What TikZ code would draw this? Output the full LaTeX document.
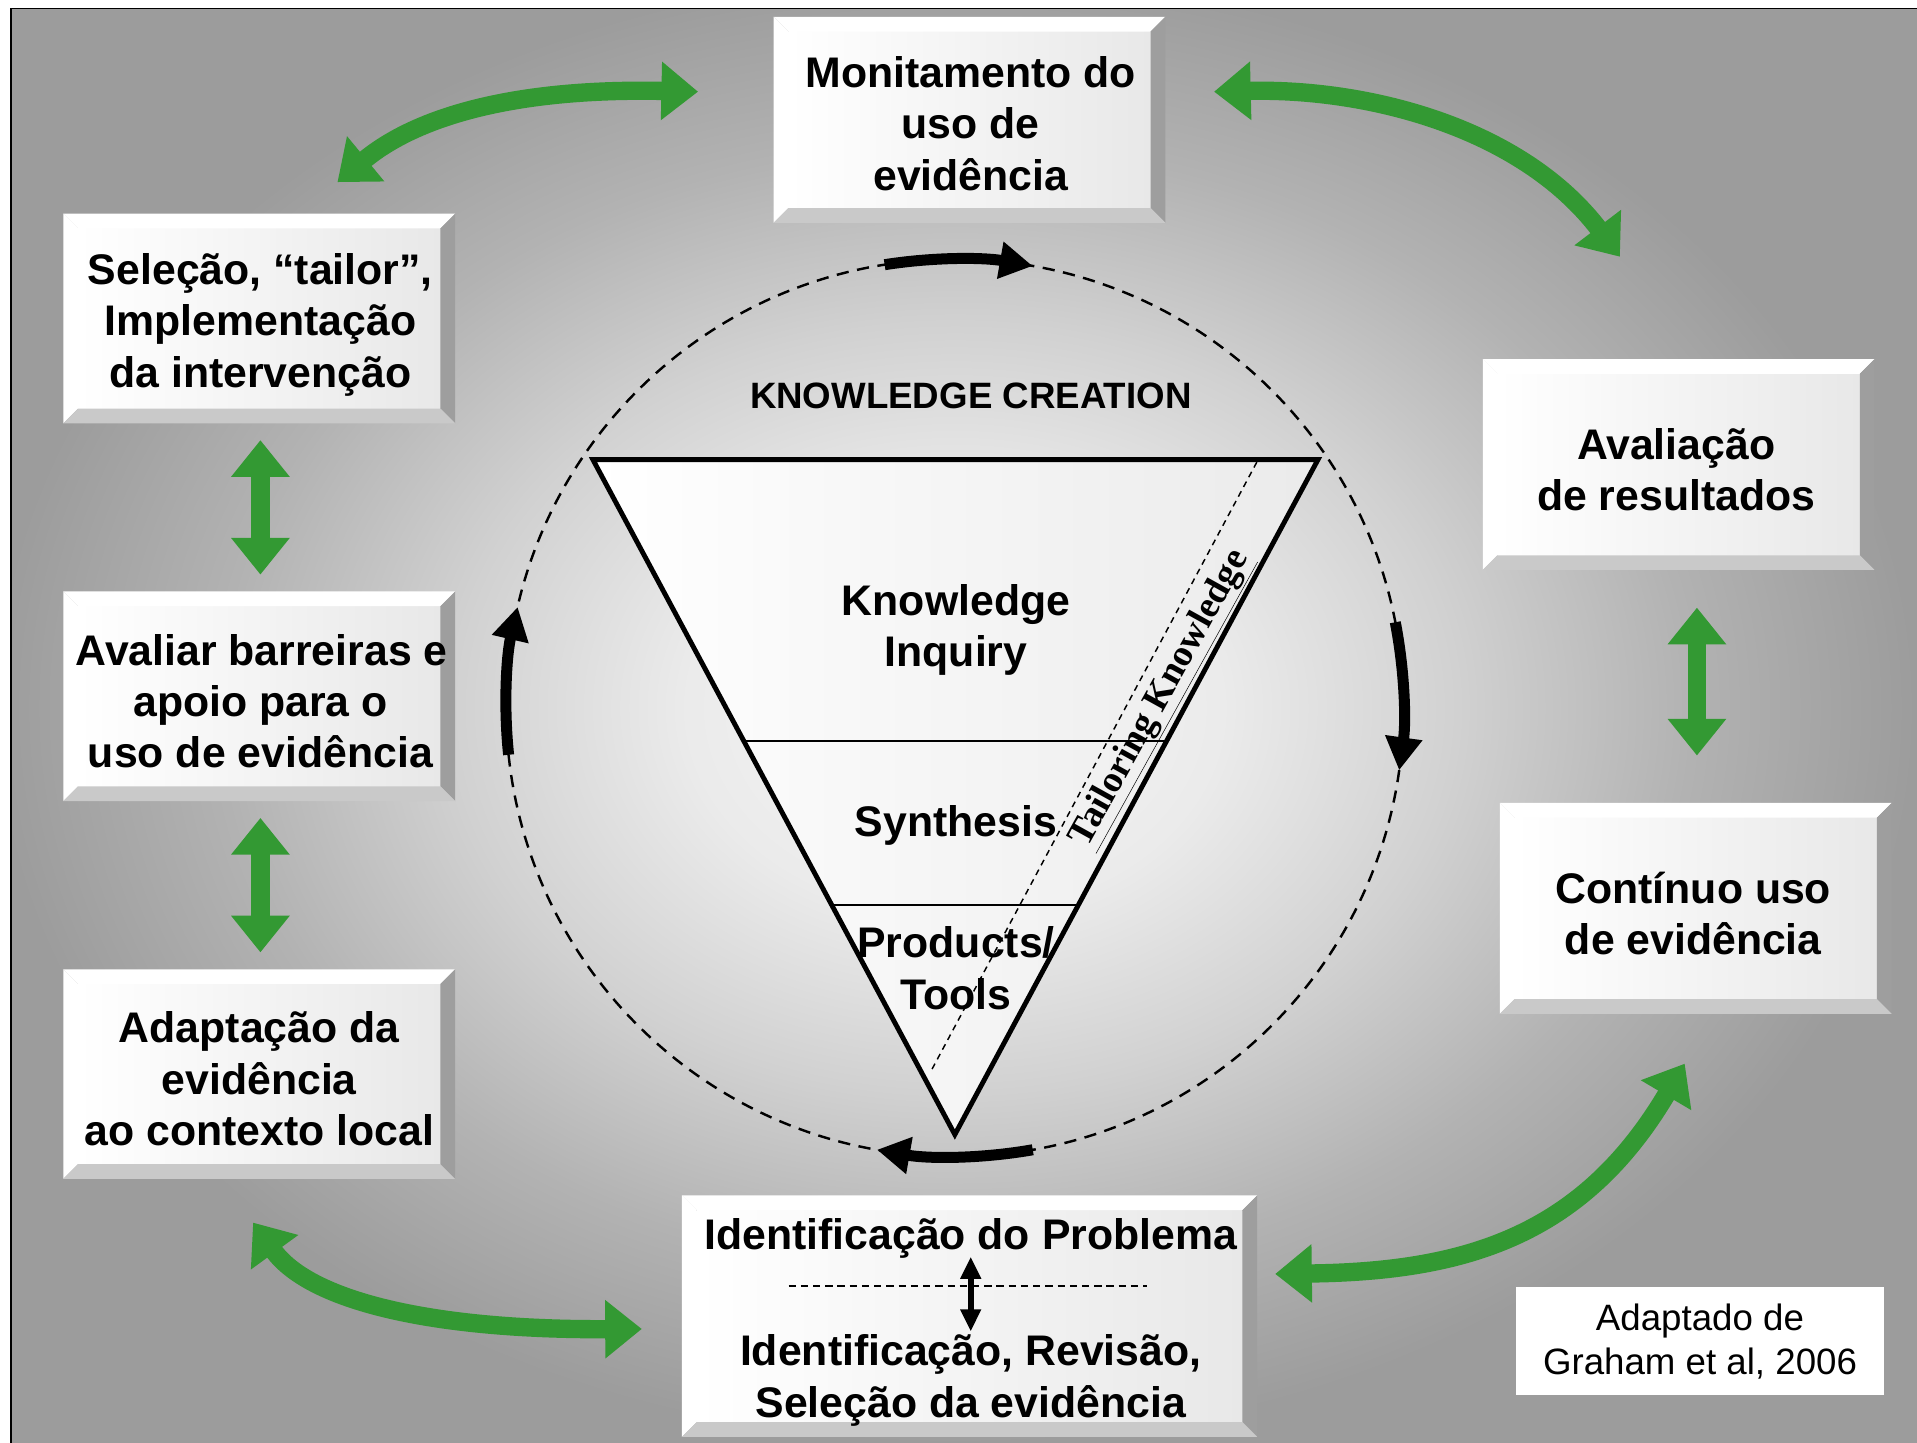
\documentclass[tikz,border=0pt]{standalone}
\usepackage{fontspec}
\setmainfont{Liberation Sans}
\newfontfamily\tailfamily{Liberation Serif}
\usetikzlibrary{arrows.meta,calc,backgrounds}
\definecolor{arrowgreen}{RGB}{51,153,51}
\definecolor{bgA}{gray}{0.97}
\definecolor{bgB}{gray}{0.92}
\definecolor{bgC}{gray}{0.82}
\definecolor{bgD}{gray}{0.70}
\definecolor{bgE}{gray}{0.61}
\pgfdeclareradialshading{bgrad}{\pgfpoint{0bp}{0bp}}{color(0bp)=(bgA); color(7bp)=(bgB); color(13bp)=(bgC); color(19bp)=(bgD); color(25bp)=(bgE); color(50bp)=(bgE)}
\newcommand{\boxfont}{\bfseries\fontsize{35}{42}\selectfont}
\newcommand{\kcfont}{\bfseries\fontsize{30}{36}\selectfont}
\newcommand{\credfont}{\fontsize{30}{36}\selectfont}
\newcommand{\tailfont}{\tailfamily\bfseries\fontsize{30.5}{36}\selectfont}
\def\bv{12}
\newcommand{\drawbevel}[1]{%
  \begin{pgfonlayer}{background}
    \shade[left color=white, right color=black!9] ($(#1.north west)+(\bv,\bv)$) rectangle ($(#1.south east)+(-\bv,-\bv)$);
    \fill[white] (#1.north west) -- (#1.north east) -- ($(#1.north east)+(-\bv,\bv)$) -- ($(#1.north west)+(\bv,\bv)$) -- cycle;
    \fill[white] (#1.north west) -- ($(#1.north west)+(\bv,\bv)$) -- ($(#1.south west)+(\bv,-\bv)$) -- (#1.south west) -- cycle;
    \fill[black!38] (#1.north east) -- (#1.south east) -- ($(#1.south east)+(-\bv,-\bv)$) -- ($(#1.north east)+(-\bv,\bv)$) -- cycle;
    \fill[black!21] (#1.south west) -- (#1.south east) -- ($(#1.south east)+(-\bv,-\bv)$) -- ($(#1.south west)+(\bv,-\bv)$) -- cycle;
  \end{pgfonlayer}}
\begin{document}
\begin{tikzpicture}[x=1pt,y=-1pt,
  box/.style={minimum width=320, minimum height=171, inner sep=0},
  plain/.style={align=center, font=\boxfont, inner sep=0},
  garrow/.style={draw=arrowgreen, line width=15, arrows={Triangle[width=46pt,length=30pt]-Triangle[width=46pt,length=30pt]}},
  cyc/.style={line width=9, arrows={-Triangle[width=29pt,length=27pt]}},
  dcircle/.style={line width=2, dash pattern=on 10pt off 7pt},
  thindash/.style={line width=1.2, dash pattern=on 5pt off 4pt}]
\useasboundingbox (0,0) rectangle (1568,1180);
\begin{pgfonlayer}{background}
  \fill[white] (0,0) rectangle (1568,1180);
  \begin{scope}
    \clip (9,7) rectangle (1568,1180);
    \shade[shading=bgrad] (-9,-26) rectangle (1571,1184);
  \end{scope}
  \draw[line width=1.5] (9,1185) -- (9,7) -- (1575,7);
\end{pgfonlayer}

% boxes
\node[box, minimum height=168] (mon) at (793,98) {};
\node[box] (sel) at (212,260.5) {};
\node[box] (bar) at (212,569.5) {};
\node[box] (adap) at (212,878.5) {};
\node[box, minimum height=172] (res) at (1373,380) {};
\node[box, minimum height=172] (cont) at (1387,743) {};
\node[box, minimum width=470, minimum height=197] (idp) at (793,1076.5) {};
\foreach \b in {mon,sel,bar,adap,res,cont,idp} {\drawbevel{\b}}

\node[plain] (mon-t) at ($(mon.center)+(1,3)$) {Monitamento do\\uso de\\evidência};
\node[plain] (sel-t) at ($(sel.center)+(1,5)$) {Seleção, “tailor”,\\Implementação\\da intervenção};
\node[plain] (bar-t) at ($(bar.center)+(1,4)$) {\hspace*{2pt}Avaliar barreiras e\\apoio para o\\uso de evidência};
\node[plain] (adap-t) at ($(adap.center)+(0,4)$) {Adaptação da\\evidência\\ao contexto local};
\node[plain] (res-t) at ($(res.center)+(-2,4)$) {Avaliação\\de resultados};
\node[plain] (cont-t) at ($(cont.center)+(-2,4)$) {Contínuo uso\\de evidência};
\node[plain] (prob) at (794,1013) {Identificação do Problema};
\node[plain] (ider) at (794,1129) {Identificação, Revisão,\\Seleção da evidência};

% credit
\node[fill=white, minimum width=301, minimum height=88, align=center, font=\credfont, inner sep=0] (cred) at (1390.5,1097) {Adaptado de\\Graham et al, 2006};

% inside bottom box
\coordinate (dl1) at (645,1052);
\coordinate (dl2) at (938,1052);
\draw[line width=1.3, dash pattern=on 6pt off 4pt] (dl1) -- (dl2);
\coordinate (ia1) at (794,1028);
\coordinate (ia2) at (794,1089);
\draw[line width=5, arrows={Triangle[width=16pt,length=18pt]-Triangle[width=16pt,length=18pt]}] (ia1) -- (ia2);

% circle and triangle
\coordinate (cc) at (781,579);
\draw[dcircle] (cc) circle[radius=367];
\coordinate (tl) at (485,376);
\coordinate (tr) at (1078,376);
\coordinate (tb) at (781,928);
\shade[left color=white, right color=black!8] (tl) -- (tr) -- (tb) -- cycle;
\draw[line width=1.5] ($(tl)!0.4167!(tb)$) -- ($(tr)!0.4167!(tb)$);
\draw[line width=1.5] ($(tl)!0.6594!(tb)$) -- ($(tr)!0.6594!(tb)$);
\coordinate (td1) at (1028,378);
\coordinate (td2) at (761,877);
\draw[thindash] (td1) -- (td2);
\draw[line width=4, line join=miter] (tl) -- (tr) -- (tb) -- cycle;

\node[font=\kcfont] (kc) at (794,324) {KNOWLEDGE CREATION};
\node[plain] (ki) at (782,515) {Knowledge\\Inquiry};
\node[plain] (syn) at (782,675) {Synthesis};
\node[plain] (pt) at (782,792) {Products/\\Tools};
\node[font=\tailfont, rotate=61, inner sep=0] (tk) at (950,572) {\underline{Tailoring Knowledge}};

% cycle arrows on circle
\draw[cyc] ($(cc)+(261:367)$) arc[start angle=261, end angle=280, radius=367];
\draw[cyc] ($(cc)+(-11:367)$) arc[start angle=-11, end angle=8, radius=367];
\draw[cyc] ($(cc)+(80:367)$) arc[start angle=80, end angle=100, radius=367];
\draw[cyc] ($(cc)+(174:367)$) arc[start angle=174, end angle=193, radius=367];

% green arrows
\coordinate (g1a) at (276,149);
\coordinate (g1b) at (571,75);
\coordinate (g2a) at (993,75);
\coordinate (g2b) at (1325,210);
\coordinate (g3a) at (213,360);
\coordinate (g3b) at (213,470);
\coordinate (g4a) at (213,669);
\coordinate (g4b) at (213,779);
\coordinate (g5a) at (1388,497);
\coordinate (g5b) at (1388,618);
\coordinate (g6a) at (207,1000);
\coordinate (g6b) at (525,1087);
\coordinate (g7a) at (1043,1042);
\coordinate (g7b) at (1378,870);
\draw[garrow] (g1a) .. controls (345,92) and (430,72) .. (g1b);
\draw[garrow] (g2a) .. controls (1120,72) and (1245,105) .. (g2b);
\draw[garrow] (g3a) -- (g3b);
\draw[garrow] (g4a) -- (g4b);
\draw[garrow] (g5a) -- (g5b);
\draw[garrow] (g6a) .. controls (255,1066) and (360,1088) .. (g6b);
\draw[garrow] (g7a) .. controls (1200,1040) and (1295,1010) .. (g7b);
\end{tikzpicture}
\end{document}
